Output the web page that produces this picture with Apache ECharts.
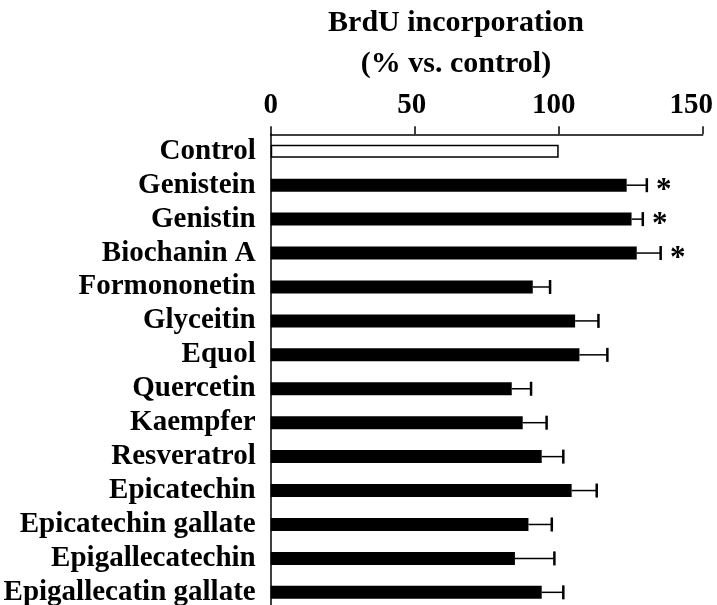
<!DOCTYPE html>
<html>
<head>
<meta charset="utf-8">
<script src="https://cdn.jsdelivr.net/npm/echarts@6/dist/echarts.min.js"></script>
<style>html,body{margin:0;padding:0;background:#fff}#c{width:717px;height:605px}</style>
</head>
<body>
<div id="c"></div>
<script>
var categories = ['Control','Genistein','Genistin','Biochanin A','Formononetin','Glyceitin','Equol','Quercetin','Kaempfer','Resveratrol','Epicatechin','Epicatechin gallate','Epigallecatechin','Epigallecatin gallate'];
var means = [100, 123.6, 125.3, 127.1, 91.0, 105.7, 107.2, 83.7, 87.5, 94.1, 104.5, 89.5, 84.8, 94.1];
var errors = [0, 7.0, 3.9, 8.3, 6.0, 8.1, 9.7, 6.7, 8.3, 7.5, 8.7, 8.1, 13.7, 7.5];
var significant = [false, true, true, true, false, false, false, false, false, false, false, false, false, false];
var xTicks = [0, 50, 100, 150];

var FONT = '"Liberation Serif", "Times New Roman", serif';

var barData = means.map(function (v, i) {
  return i === 0
    ? { value: v, itemStyle: { color: '#fff', borderColor: '#000', borderWidth: 1.5 } }
    : { value: v, itemStyle: { color: '#000' } };
});
var errData = means.map(function (v, i) { return [v, errors[i], i, significant[i] ? 1 : 0]; });

var labelStyle = { color: '#000', fontFamily: FONT, fontWeight: 'bold', fontSize: 29 };
function tickRich(pad) { return Object.assign({ padding: [0, pad, 0, 0] }, labelStyle); }

var chart = echarts.init(document.getElementById('c'), null, { renderer: 'canvas' });
chart.setOption({
  animation: false,
  backgroundColor: '#fff',
  graphic: [{
    type: 'text',
    x: 456, y: 2.5,
    style: {
      text: 'BrdU incorporation\n(% vs. control)',
      font: 'bold 30px ' + FONT,
      fill: '#000',
      align: 'center',
      verticalAlign: 'top',
      lineHeight: 41
    }
  }],
  grid: { left: 270.7, right: 14.3, top: 134.3, height: 475, containLabel: false, outerBoundsMode: 'none' },
  xAxis: {
    type: 'value',
    position: 'top',
    min: xTicks[0], max: xTicks[xTicks.length - 1], interval: 50,
    axisLine: { show: true, lineStyle: { color: '#000', width: 1.5 } },
    axisTick: { show: true, inside: false, length: 8, lineStyle: { color: '#000', width: 1.5 } },
    axisLabel: {
      color: '#000', fontFamily: FONT, fontWeight: 'bold', fontSize: 29, margin: 14,
      showMaxLabel: true, showMinLabel: true,
      formatter: function (v) {
        if (v >= 150) return '{d|' + v + '}';
        if (v >= 100) return '{c|' + v + '}';
        if (v >= 50) return '{b|' + v + '}';
        return '{a|' + v + '}';
      },
      rich: { a: tickRich(0), b: tickRich(6), c: tickRich(10), d: tickRich(23) }
    },
    splitLine: { show: false }
  },
  yAxis: {
    type: 'category',
    inverse: true,
    data: categories,
    axisLine: { show: true, lineStyle: { color: '#000', width: 1.5 } },
    axisTick: { show: false },
    axisLabel: { color: '#000', fontFamily: FONT, fontWeight: 'bold', fontSize: 29, margin: 15, interval: 0 },
    splitLine: { show: false }
  },
  series: [{
    type: 'bar',
    data: barData,
    barWidth: 13,
    z: 2
  }, {
    type: 'custom',
    data: errData,
    z: 3,
    renderItem: function (params, api) {
      var m = api.value(0), e = api.value(1), idx = api.value(2), sig = api.value(3);
      var children = [];
      var p0 = api.coord([m, idx]);
      var p1 = api.coord([m + e, idx]);
      if (e > 0) {
        children.push({ type: 'line', shape: { x1: p0[0], y1: p0[1], x2: p1[0], y2: p1[1] }, style: { stroke: '#000', lineWidth: 1.5 } });
        children.push({ type: 'line', shape: { x1: p1[0], y1: p1[1] - 7, x2: p1[0], y2: p1[1] + 7 }, style: { stroke: '#000', lineWidth: 2.5 } });
      }
      if (sig) {
        children.push({ type: 'text', x: p1[0] + 17, y: p1[1] + 6, style: { text: '*', font: 'bold 31px ' + FONT, fill: '#000', align: 'center', verticalAlign: 'middle' } });
      }
      return { type: 'group', children: children };
    }
  }]
});
</script>
</body>
</html>
